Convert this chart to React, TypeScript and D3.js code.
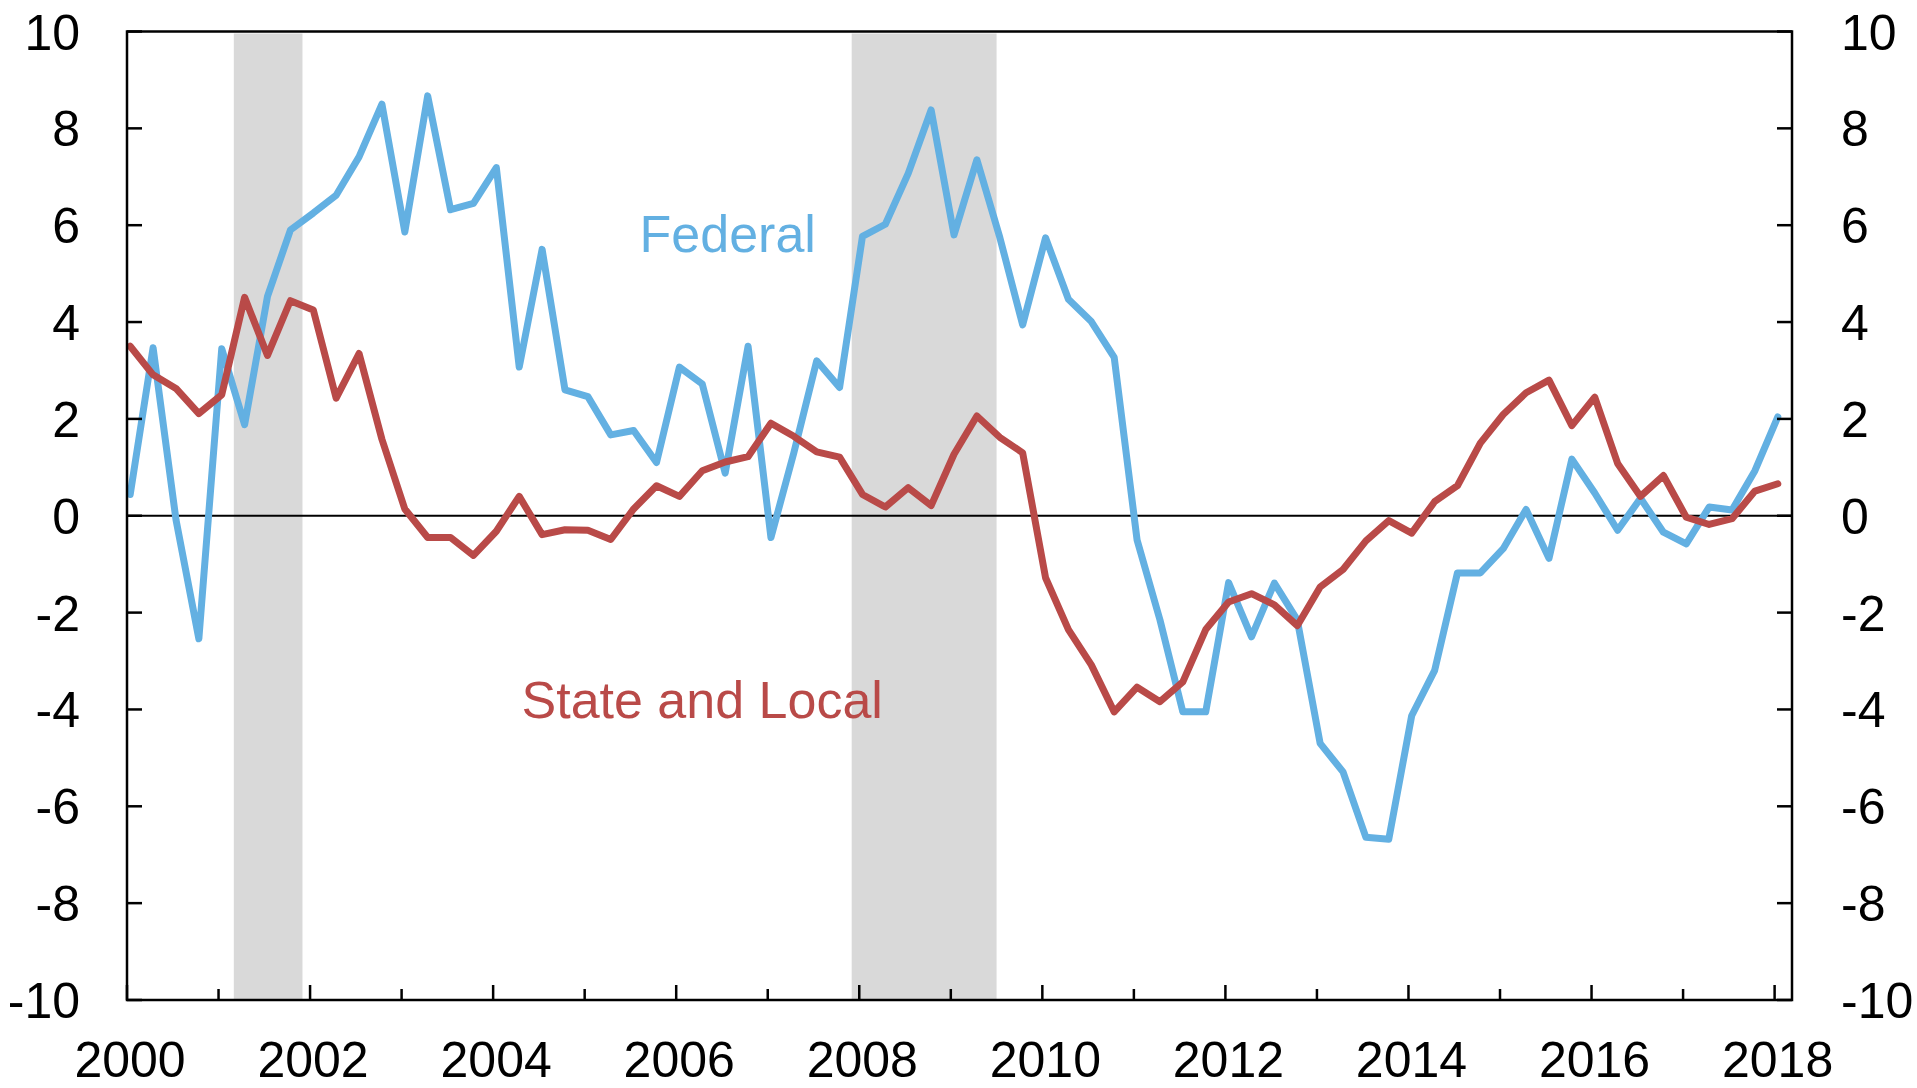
import * as d3 from "d3";
import { useEffect, useRef } from "react";

// quarterly, 2000Q1 - 2018Q1, percent change
const federal = [
  0.44, 3.47, -0.08, -2.54, 3.45, 1.88, 4.53, 5.9, 6.25, 6.62, 7.41, 8.5, 5.86,
  8.67, 6.32, 6.45, 7.19, 3.07, 5.5, 2.6, 2.46, 1.67, 1.76, 1.1, 3.07, 2.72,
  0.88, 3.5, -0.45, 1.3, 3.2, 2.65, 5.77, 6.02, 7.07, 8.38, 5.8, 7.35, 5.75,
  3.94, 5.74, 4.47, 4.01, 3.27, -0.5, -2.15, -4.05, -4.05, -1.38, -2.5, -1.39,
  -2.15, -4.7, -5.29, -6.64, -6.68, -4.13, -3.2, -1.18, -1.18, -0.68, 0.13,
  -0.88, 1.17, 0.47, -0.3, 0.36, -0.34, -0.58, 0.18, 0.12, 0.93, 2.04,
];

const stateLocal = [
  3.5, 2.91, 2.63, 2.11, 2.5, 4.51, 3.31, 4.44, 4.25, 2.43, 3.35, 1.58, 0.14,
  -0.45, -0.45, -0.82, -0.32, 0.4, -0.39, -0.29, -0.3, -0.49, 0.14, 0.62, 0.4,
  0.93, 1.11, 1.22, 1.91, 1.64, 1.32, 1.21, 0.44, 0.18, 0.58, 0.21, 1.27, 2.06,
  1.62, 1.3, -1.28, -2.35, -3.08, -4.05, -3.54, -3.84, -3.43, -2.35, -1.78,
  -1.61, -1.84, -2.27, -1.47, -1.11, -0.52, -0.1, -0.36, 0.29, 0.62, 1.5, 2.09,
  2.54, 2.8, 1.86, 2.45, 1.08, 0.4, 0.83, -0.03, -0.18, -0.06, 0.51, 0.66,
];

const recessionStarts = [2001.167, 2007.917];
const recessionEnds = [2001.917, 2009.5];

const yTicks = [-10, -8, -6, -4, -2, 0, 2, 4, 6, 8, 10];
const xTickYears = d3.range(2000, 2019);
const xLabelYears = [2000, 2002, 2004, 2006, 2008, 2010, 2012, 2014, 2016, 2018];

const BLUE = "#63b0e2";
const RED = "#b94a48";
const FONT = "'Liberation Sans', Arial, sans-serif";

function App() {
  const ref = useRef(null);
  const width = 1917;
  const height = 1088;

  useEffect(() => {
    const svg = d3.select(ref.current);
    svg.selectAll("*").remove();
    svg.attr("width", width).attr("height", height);

    const x = d3.scaleLinear().domain([2000, 2018.19]).range([127, 1792]);
    const y = d3.scaleLinear().domain([-10, 10]).range([1000, 31.5]);
    const [x0, x1] = x.range();
    const [yb, yt] = y.range();

    // point dates: first month of each quarter
    const date = (i) => 2000 + i / 4 + 0.035;

    // recession bands
    svg
      .append("g")
      .selectAll("rect")
      .data(recessionStarts)
      .join("rect")
      .attr("x", (d) => x(d))
      .attr("width", (d, i) => x(recessionEnds[i]) - x(d))
      .attr("y", yt + 2)
      .attr("height", yb - yt - 2)
      .attr("fill", "#d9d9d9");

    // zero line
    svg
      .append("line")
      .attr("x1", x0)
      .attr("x2", x1)
      .attr("y1", y(0))
      .attr("y2", y(0))
      .attr("stroke", "#000")
      .attr("stroke-width", 2);

    const line = d3
      .line()
      .x((d, i) => x(date(i)))
      .y((d) => y(d));

    [
      [federal, BLUE],
      [stateLocal, RED],
    ].forEach(([series, color]) => {
      svg
        .append("path")
        .attr("d", line(series))
        .attr("fill", "none")
        .attr("stroke", color)
        .attr("stroke-width", 7)
        .attr("stroke-linejoin", "round")
        .attr("stroke-linecap", "round");
    });

    // frame
    svg
      .append("rect")
      .attr("x", x0)
      .attr("y", yt)
      .attr("width", x1 - x0)
      .attr("height", yb - yt)
      .attr("fill", "none")
      .attr("stroke", "#000")
      .attr("stroke-width", 2.5);

    // y ticks, both sides, pointing inward
    const yg = svg.append("g");
    yTicks.forEach((t) => {
      yg.append("line")
        .attr("x1", x0)
        .attr("x2", x0 + 15)
        .attr("y1", y(t))
        .attr("y2", y(t))
        .attr("stroke", "#000")
        .attr("stroke-width", 2.5);
      yg.append("line")
        .attr("x1", x1)
        .attr("x2", x1 - 15)
        .attr("y1", y(t))
        .attr("y2", y(t))
        .attr("stroke", "#000")
        .attr("stroke-width", 2.5);
      yg.append("text")
        .attr("x", 80)
        .attr("y", y(t) + 18)
        .attr("text-anchor", "end")
        .attr("font-family", FONT)
        .attr("font-size", 50)
        .text(t);
      yg.append("text")
        .attr("x", 1841)
        .attr("y", y(t) + 18)
        .attr("text-anchor", "start")
        .attr("font-family", FONT)
        .attr("font-size", 50)
        .text(t);
    });

    // x ticks, pointing up
    const xg = svg.append("g");
    xTickYears.forEach((yr) => {
      const major = yr % 2 === 0;
      xg.append("line")
        .attr("x1", x(yr))
        .attr("x2", x(yr))
        .attr("y1", yb)
        .attr("y2", yb - (major ? 15 : 11))
        .attr("stroke", "#000")
        .attr("stroke-width", 2.5);
    });
    xLabelYears.forEach((yr) => {
      xg.append("text")
        .attr("x", x(yr) + 3)
        .attr("y", 1077)
        .attr("text-anchor", "middle")
        .attr("font-family", FONT)
        .attr("font-size", 50)
        .text(yr);
    });

    // series labels
    svg
      .append("text")
      .attr("x", x(2005.6))
      .attr("y", y(5.44))
      .attr("font-family", FONT)
      .attr("font-size", 52)
      .attr("fill", BLUE)
      .text("Federal");

    svg
      .append("text")
      .attr("x", x(2004.31))
      .attr("y", y(-4.17))
      .attr("font-family", FONT)
      .attr("font-size", 52)
      .attr("fill", RED)
      .text("State and Local");
  }, []);

  return (
    <div style={{ position: "absolute", left: 0, top: 0, background: "#fff" }}>
      <svg ref={ref} style={{ display: "block" }} />
    </div>
  );
}

export default App;
